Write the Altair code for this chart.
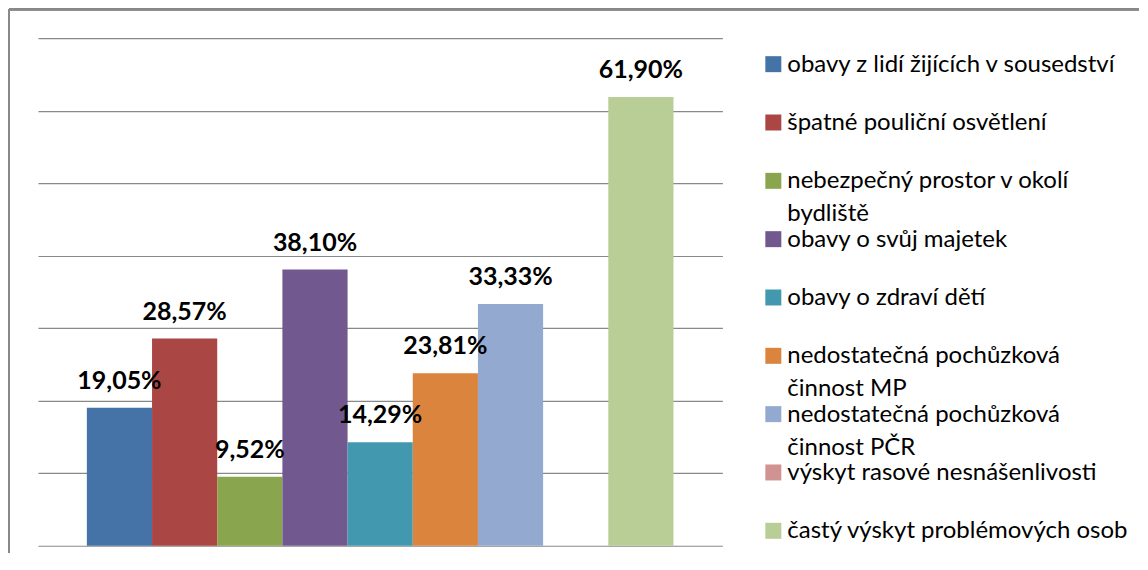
import altair as alt
import pandas as pd

categories = [
    "obavy z lidí žijících v sousedství",
    "špatné pouliční osvětlení",
    "nebezpečný prostor v okolí bydliště",
    "obavy o svůj majetek",
    "obavy o zdraví dětí",
    "nedostatečná pochůzková činnost MP",
    "nedostatečná pochůzková činnost PČR",
    "výskyt rasové nesnášenlivosti",
    "častý výskyt problémových osob",
]
legend_text = [
    "obavy z lidí žijících v sousedství",
    "špatné pouliční osvětlení",
    "nebezpečný prostor v okolí\nbydliště",
    "obavy o svůj majetek",
    "obavy o zdraví dětí",
    "nedostatečná pochůzková\nčinnost MP",
    "nedostatečná pochůzková\nčinnost PČR",
    "výskyt rasové nesnášenlivosti",
    "častý výskyt problémových osob",
]
values = [19.05, 28.57, 9.52, 38.10, 14.29, 23.81, 33.33, 0.0, 61.90]
value_labels = ["19,05%", "28,57%", "9,52%", "38,10%", "14,29%", "23,81%", "33,33%", "", "61,90%"]
colors = ["#4572A7", "#AA4643", "#89A54E", "#71588F", "#4198AF",
          "#DB843D", "#93A9CF", "#D19392", "#B9CD96"]
grid_values = [0, 10, 20, 30, 40, 50, 60, 70]

df = pd.DataFrame({
    "cat": categories,
    "val": values,
    "lab": value_labels,
    "leg": legend_text,
    "idx": list(range(len(categories))),
})

color = alt.Color("cat:N", scale=alt.Scale(domain=categories, range=colors), legend=None)
x = alt.X("cat:N", sort=categories, axis=None,
          scale=alt.Scale(paddingInner=0, paddingOuter=0.75))
y = alt.Y("val:Q", scale=alt.Scale(domain=[0, 70], nice=False),
          axis=alt.Axis(values=grid_values, labels=False, ticks=False, domain=False,
                        title=None, grid=True, gridColor="#888888", gridWidth=1.2))

base = alt.Chart(df)
bars = base.mark_bar().encode(x=x, y=y, color=color)
texts = base.mark_text(baseline="alphabetic", dy=-19, fontSize=25, fontWeight="bold",
                       font="Lato", color="#000000").encode(x=x, y="val:Q", text="lab:N")

border_top = base.mark_rule(color="#898989", strokeWidth=2).encode(
    x=alt.value(-29), x2=alt.value(1102), y=alt.value(-29))
border_left = base.mark_rule(color="#898989", strokeWidth=2).encode(
    x=alt.value(-29), y=alt.value(-29), y2=alt.value(515))

main = alt.layer(border_top, border_left, bars, texts).properties(width=685, height=508)

ly = alt.Y("idx:O", axis=None, scale=alt.Scale(type="point", padding=0.445))
sq = base.mark_square(size=256, opacity=1).encode(x=alt.value(7), y=ly, color=color)
lt = base.mark_text(align="left", baseline="alphabetic", dy=7.5, fontSize=24, font="Lato",
                    lineBreak="\n", lineHeight=33, color="#000000").encode(
    x=alt.value(21), y=ly, text="leg:N")
legend = alt.layer(sq, lt).properties(width=360, height=519)

chart = alt.hconcat(main, legend, spacing=44, bounds="flush").properties(
    padding=0, background="white"
).configure_view(stroke=None)

chart.save("out.html", embed_options={"renderer": "svg", "actions": False})
